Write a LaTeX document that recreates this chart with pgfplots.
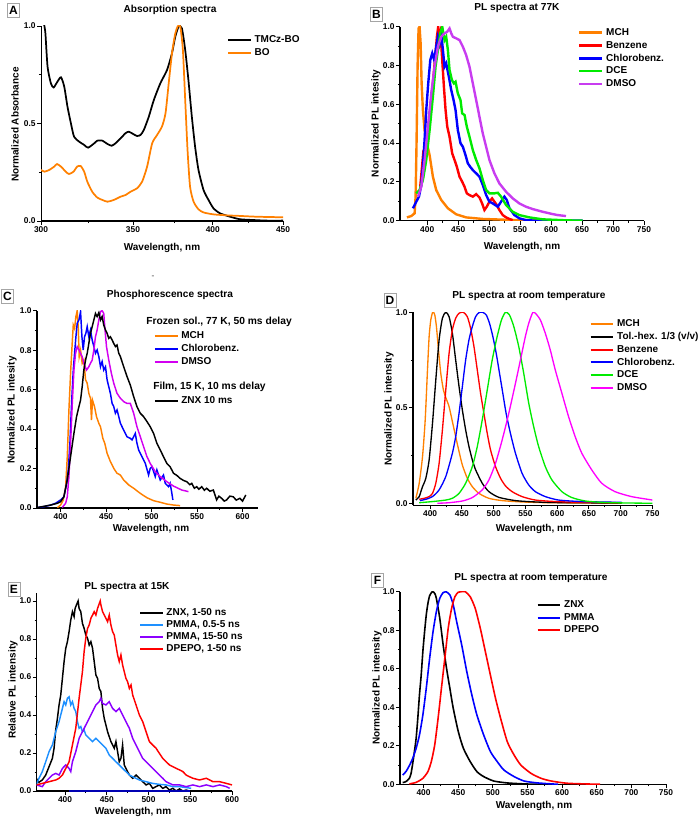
\documentclass[border=0pt]{standalone}
\usepackage{pgfplots}
\pgfplotsset{compat=1.18}
\usepackage{fontspec}
\setmainfont{Liberation Sans}
\definecolor{orgO}{RGB}{255,128,0}
\definecolor{vioB}{RGB}{200,60,240}
\definecolor{magC}{RGB}{210,0,240}
\definecolor{magD}{RGB}{255,0,255}
\definecolor{ltblue}{RGB}{30,144,255}
\definecolor{violetE}{RGB}{140,0,255}
\definecolor{grn}{RGB}{0,235,0}
\definecolor{boxgray}{RGB}{165,165,165}
\newcommand\tickf{\fontsize{6.3}{7}\selectfont\bfseries}
\newcommand\labf{\fontsize{7.5}{9}\selectfont\bfseries}
\newcommand\titf{\fontsize{7.6}{9}\selectfont\bfseries}
\newcommand\legf{\fontsize{7.5}{9}\selectfont\bfseries}
\pgfplotsset{orig/.style={
  scale only axis, anchor=south west,
  axis lines*=left, axis line style={-, line width=0.8pt, black},
  tick align=outside, major tick length=3pt, minor tick length=1.6pt,
  tick style={black, line width=0.7pt},
  ticklabel style={font=\tickf, inner sep=0.9pt},
  /pgf/number format/assume math mode=true,
  yticklabel style={/pgf/number format/.cd, fixed, fixed zerofill, precision=1},
  xticklabel style={/pgf/number format/.cd, fixed, precision=0},
  enlargelimits=false,
  legend cell align=left,
  legend image post style={line width=1.5pt},
  legend style={draw=none, fill=none, anchor=north west, inner sep=0pt, outer sep=0pt,
    row sep=0pt, font=\legf, /tikz/every odd column/.append style={column sep=2pt}},
}}
\begin{document}
\begin{tikzpicture}[x=0.75pt,y=0.75pt]
\useasboundingbox (0,0) rectangle (698,819);
\coordinate (pA) at (41,598);
\coordinate (pB) at (400,598.3);
\coordinate (pC) at (37,311);
\coordinate (pD) at (413,313.8);
\coordinate (pE) at (36.7,28);
\coordinate (pF) at (400,34.7);

% ---------------- A
\begin{axis}[orig, at={(pA)}, width=181.5pt, height=146.25pt,
  xmode=log, xmin=300, xmax=450, ymin=0, ymax=1,
  xtick={300,350,400,450}, xticklabels={300,350,400,450}, minor xtick={325,375,425},
  ytick={0,0.5,1}, minor ytick={0.25,0.75},
  legend style={at={(0.769,0.962)}, nodes={inner sep=0pt, text height=7pt, text depth=2.75pt}}]
\addplot[black, line width=1.3pt, smooth, tension=0.4] coordinates {(301.2,1.05)(301.7,1.0)(302.2,0.962)(303.3,0.791)(305.0,0.706)(306.4,0.685)(308.4,0.715)(310.2,0.737)(311.9,0.689)(313.6,0.586)(315.4,0.501)(317.1,0.432)(319.8,0.407)(322.5,0.390)(324.6,0.376)(327.9,0.398)(329.7,0.412)(332.5,0.412)(335.3,0.395)(337.7,0.386)(339.8,0.398)(342.8,0.424)(345.6,0.450)(347.6,0.458)(350.5,0.444)(352.4,0.436)(354.4,0.441)(356.4,0.467)(359.4,0.535)(362.4,0.62)(366.4,0.706)(370.5,0.774)(373.6,0.86)(375.7,0.945)(377.8,0.997)(379.9,0.988)(382.0,0.877)(384.1,0.723)(386.3,0.535)(388.4,0.381)(390.6,0.262)(393.9,0.159)(397.2,0.108)(400.5,0.065)(405.0,0.039)(411.8,0.022)(418.7,0.009)(428.1,0.005)(437.7,0.002)(450,0.002)};
\addlegendentry{TMCz-BO}
\addplot[orgO, line width=1.3pt, smooth, tension=0.4] coordinates {(300,0.262)(301.7,0.253)(304.2,0.262)(306.7,0.279)(308.1,0.292)(310.2,0.279)(312.7,0.253)(314.4,0.241)(316.8,0.253)(318.7,0.279)(320.6,0.282)(322.5,0.253)(324.2,0.202)(326.9,0.150)(329.7,0.12)(332.5,0.108)(335.3,0.099)(338.9,0.108)(342.8,0.125)(345.6,0.133)(348.5,0.150)(352.4,0.168)(355.4,0.202)(358.4,0.279)(361.4,0.398)(364.4,0.441)(367.4,0.484)(369.6,0.552)(371.6,0.706)(373.6,0.86)(375.7,0.962)(377.4,1.0)(378.9,0.997)(380.5,0.877)(382.0,0.62)(383.5,0.364)(385.1,0.176)(387.4,0.099)(390.6,0.06)(393.9,0.044)(400.5,0.034)(409.5,0.029)(418.7,0.026)(430.3,0.022)(450,0.019)};
\addlegendentry{BO}
\end{axis}

% ---------------- B
\begin{axis}[orig, at={(pB)}, width=183pt, height=145.5pt,
  xmin=356, xmax=750, ymin=0, ymax=1,
  xtick={400,450,...,750}, minor x tick num=1,
  ytick={0,0.2,...,1.0}, minor y tick num=1,
  legend image post style={line width=2pt},
  legend style={at={(0.730,1.002)}, nodes={inner sep=0pt, text height=6.9pt, text depth=2.7pt}}]
\addplot[orgO, line width=1.8pt] coordinates {(367.2,0.017)(374.2,0.024)(379.6,0.038)(381.2,0.124)(382.8,0.416)(384.4,0.794)(386.0,0.991)(387.6,1.0)(389.3,0.914)(390.9,0.708)(393.0,0.57)(395.7,0.467)(399.5,0.399)(403.8,0.338)(409.1,0.227)(414.5,0.158)(422.6,0.107)(433.3,0.064)(446.7,0.033)(462.8,0.017)(489.7,0.009)(543.4,0.003)(600,0.002)};
\addlegendentry{MCH}
\addplot[red, line width=1.8pt] coordinates {(388.7,0.175)(393.0,0.330)(395.2,0.30)(397.3,0.364)(401.1,0.450)(404.9,0.570)(409.1,0.708)(412.4,0.828)(415.6,0.948)(417.7,1.0)(419.9,0.931)(421.5,0.966)(424.2,0.828)(426.9,0.691)(429.6,0.570)(432.3,0.485)(436.0,0.433)(440.3,0.347)(444.1,0.313)(447.8,0.278)(452.1,0.227)(456.4,0.201)(460.2,0.175)(463.9,0.141)(468.2,0.132)(473.6,0.124)(479.0,0.137)(484.3,0.120)(488.6,0.089)(492.4,0.055)(496.1,0.072)(500.4,0.098)(504.7,0.115)(508.5,0.098)(512.2,0.081)(516.5,0.055)(521.9,0.029)(527.3,0.017)(532.7,0.009)(538.0,0.003)};
\addlegendentry{Benzene}
\addplot[blue, line width=1.8pt] coordinates {(376.9,0.064)(382.3,0.098)(386.6,0.124)(390.4,0.184)(393.0,0.278)(395.7,0.416)(398.4,0.570)(401.6,0.708)(404.9,0.828)(408.1,0.863)(411.3,0.828)(414.5,0.897)(417.2,0.948)(419.9,0.914)(422.6,0.966)(425.3,0.880)(427.9,0.794)(430.6,0.811)(434.9,0.742)(438.7,0.674)(442.5,0.622)(445.7,0.570)(449.4,0.467)(453.7,0.399)(457.5,0.381)(461.8,0.338)(465.5,0.296)(469.3,0.278)(473.6,0.261)(479.0,0.244)(484.3,0.227)(489.7,0.184)(495.1,0.132)(500.4,0.098)(505.8,0.089)(513.9,0.072)(519.2,0.098)(524.6,0.124)(528.4,0.107)(532.7,0.064)(540.7,0.029)(548.8,0.012)(559.5,0.003)(575.6,0)(650.8,0)};
\addlegendentry{Chlorobenz.}
\addplot[grn, line width=1.8pt] coordinates {(382.3,0.141)(387.7,0.158)(393.0,0.210)(398.4,0.313)(403.8,0.467)(409.1,0.639)(413.4,0.794)(417.2,0.880)(421.0,0.966)(424.2,1.0)(427.9,0.931)(430.6,0.948)(433.3,0.880)(436.0,0.777)(439.8,0.725)(443.0,0.708)(445.7,0.716)(449.4,0.656)(453.7,0.622)(456.4,0.553)(460.2,0.545)(463.9,0.485)(468.2,0.433)(473.6,0.364)(479.0,0.313)(484.3,0.270)(489.7,0.210)(495.1,0.158)(500.4,0.141)(508.5,0.141)(513.9,0.144)(519.2,0.124)(527.3,0.081)(538.0,0.046)(548.8,0.029)(564.9,0.017)(586.4,0.007)(624.0,0.002)(650.8,0)};
\addlegendentry{DCE}
\addplot[vioB, line width=1.8pt] coordinates {(385.0,0.124)(390.4,0.175)(395.7,0.313)(401.1,0.485)(406.5,0.656)(411.8,0.794)(417.2,0.897)(422.6,0.948)(427.9,0.966)(432.3,0.974)(436.0,0.991)(438.7,0.966)(441.4,0.948)(446.7,0.940)(452.1,0.931)(457.5,0.897)(462.8,0.854)(468.2,0.794)(473.6,0.708)(479.0,0.622)(484.3,0.536)(489.7,0.450)(495.1,0.381)(500.4,0.313)(508.5,0.244)(516.5,0.192)(527.3,0.149)(538.0,0.115)(548.8,0.089)(559.5,0.072)(570.2,0.060)(586.4,0.046)(602.5,0.034)(610.5,0.029)(624.0,0.024)};
\addlegendentry{DMSO}
\end{axis}

% ---------------- C
\begin{axis}[orig, at={(pC)}, width=165.75pt, height=148pt,
  xmin=374, xmax=617, ymin=0, ymax=1,
  xtick={400,450,...,600}, minor x tick num=1,
  ytick={0,0.2,...,1.0}, minor y tick num=1,
  legend style={at={(0.529,0.906)}, nodes={inner sep=0pt, text height=7pt, text depth=2.75pt}}]
\addplot[orgO, line width=1.1pt] coordinates {(396.4,0.002)(400,0.015)(402.9,0.041)(405.5,0.108)(407.3,0.26)(409.1,0.497)(410.9,0.682)(412.8,0.843)(413.9,0.927)(415.3,0.91)(416.8,0.97)(418.2,1.0)(419.3,0.919)(420.4,0.767)(421.9,0.8)(423.7,0.733)(425.5,0.75)(427.4,0.649)(429.2,0.632)(431.0,0.581)(432.8,0.556)(433.9,0.446)(435.0,0.547)(437.2,0.514)(439.4,0.463)(442.0,0.429)(443.8,0.412)(446.4,0.353)(448.5,0.328)(451.1,0.277)(454.7,0.235)(458.4,0.201)(462.0,0.176)(465.7,0.167)(469.3,0.142)(474.8,0.117)(480.3,0.1)(487.6,0.074)(494.9,0.052)(502.2,0.037)(509.5,0.029)(516.8,0.02)(524.1,0.015)(531.4,0.012)};
\addlegendentry{MCH}
\addplot[blue, line width=1.1pt] coordinates {(375.2,0.003)(381.8,0.007)(389.1,0.015)(394.5,0.024)(400,0.041)(403.6,0.057)(406.6,0.125)(408.4,0.193)(410.2,0.328)(412.0,0.530)(413.9,0.699)(415.3,0.784)(416.8,0.868)(418.2,0.936)(420.1,0.953)(421.9,0.995)(423.4,0.868)(424.8,0.801)(426.3,0.868)(427.7,0.885)(429.2,0.919)(431.0,0.868)(432.8,0.902)(434.7,0.851)(436.5,0.818)(438.3,0.784)(440.1,0.801)(442.0,0.767)(443.8,0.716)(445.6,0.742)(447.4,0.699)(449.3,0.716)(451.1,0.649)(452.9,0.615)(454.7,0.581)(456.6,0.530)(458.4,0.514)(460.2,0.480)(462.0,0.497)(463.9,0.463)(465.7,0.429)(469.3,0.395)(473.0,0.361)(476.6,0.353)(478.5,0.345)(482.1,0.378)(483.9,0.328)(485.8,0.294)(489.4,0.260)(493.1,0.226)(496.7,0.167)(498.5,0.201)(500.4,0.209)(504.0,0.159)(505.8,0.193)(509.5,0.142)(513.1,0.167)(515.0,0.125)(518.6,0.108)(520.4,0.125)(522.3,0.074)(523.4,0.041)};
\addlegendentry{Chlorobenz.}
\addplot[magC, line width=1.1pt] coordinates {(401.8,0.003)(405.5,0.024)(407.3,0.057)(409.1,0.159)(410.9,0.328)(412.8,0.530)(414.6,0.699)(416.4,0.784)(418.2,0.818)(420.1,0.801)(421.9,0.784)(423.7,0.767)(425.5,0.733)(428.5,0.699)(431.0,0.716)(432.8,0.733)(434.7,0.750)(436.5,0.801)(438.3,0.868)(440.1,0.902)(442.0,0.953)(443.8,0.995)(445.6,1.0)(447.4,0.986)(448.5,0.919)(450.4,0.818)(452.9,0.750)(455.8,0.682)(458.4,0.632)(462.0,0.581)(465.7,0.556)(469.3,0.539)(473.0,0.530)(476.6,0.530)(480.3,0.480)(483.9,0.412)(487.6,0.361)(491.2,0.311)(494.9,0.260)(498.5,0.226)(504.0,0.184)(509.5,0.159)(516.8,0.133)(524.1,0.111)(533.2,0.091)(540.5,0.083)};
\addlegendentry{DMSO}
\addlegendimage{empty legend}\addlegendentry{}
\addlegendimage{empty legend}\addlegendentry{}
\addplot[black, line width=1.1pt] coordinates {(375.2,0.003)(389.1,0.015)(396.4,0.024)(400,0.032)(403.6,0.057)(407.3,0.142)(410.9,0.260)(414.6,0.378)(417.5,0.463)(420.1,0.514)(421.9,0.547)(423.7,0.615)(425.5,0.699)(427.4,0.750)(429.2,0.784)(431.0,0.834)(432.8,0.885)(434.7,0.919)(436.5,0.953)(438.3,0.986)(440.1,0.970)(442.0,0.990)(443.8,0.953)(445.6,0.970)(447.4,0.927)(449.3,0.902)(451.1,0.885)(452.9,0.860)(454.7,0.868)(456.6,0.851)(458.4,0.834)(460.2,0.818)(462.0,0.826)(463.9,0.784)(465.7,0.767)(469.3,0.716)(473.0,0.666)(476.6,0.623)(480.3,0.564)(483.9,0.514)(487.6,0.480)(491.2,0.463)(494.9,0.438)(498.5,0.412)(502.2,0.378)(505.8,0.328)(509.5,0.294)(513.1,0.260)(516.8,0.226)(520.4,0.209)(524.1,0.176)(527.8,0.165)(531.4,0.150)(535.0,0.140)(538.7,0.133)(542.0,0.118)(544.2,0.125)(547.0,0.100)(549.6,0.108)(552.0,0.095)(555.1,0.108)(558.0,0.090)(560.6,0.100)(564.0,0.085)(567.9,0.091)(571.5,0.041)(574.0,0.060)(577.0,0.049)(580.0,0.035)(582.5,0.041)(586.0,0.060)(589.8,0.057)(593.0,0.040)(597.1,0.049)(600.0,0.035)(603.6,0.066)};
\addlegendentry{ZNX 10 ms}
\end{axis}

% ---------------- D
\begin{axis}[orig, at={(pD)}, width=179.6pt, height=144.7pt,
  xmin=373, xmax=750, ymin=-0.01, ymax=1,
  xtick={400,450,...,750}, minor x tick num=1,
  ytick={0,0.5,1}, minor ytick={0.25,0.75},
  legend style={at={(0.738,0.971)}, nodes={inner sep=0pt, text height=6.85pt, text depth=2.7pt}}]
\addplot[orgO, line width=1.0pt, smooth, tension=0.4] coordinates {(377.5,0.026)(382.8,0.105)(388.0,0.244)(392.2,0.436)(395.8,0.698)(398.4,0.873)(401.0,0.960)(403.7,0.998)(405.2,1.0)(407.3,0.986)(409.9,0.925)(413.1,0.803)(416.7,0.681)(420.9,0.593)(425.0,0.55)(429.8,0.506)(435.0,0.428)(440.2,0.349)(445.5,0.271)(450.7,0.2)(458.5,0.131)(466.4,0.087)(476.8,0.052)(492.5,0.026)(513.4,0.014)(544.7,0.007)(586.5,0.003)(638.8,0.002)(701.5,0)};
\addlegendentry{MCH}
\addplot[black, line width=1.0pt, smooth, tension=0.4] coordinates {(377.5,0.017)(382.8,0.035)(385.4,0.061)(388.0,0.087)(393.2,0.131)(398.4,0.227)(403.7,0.419)(408.9,0.646)(414.1,0.855)(419.3,0.969)(424.6,1.0)(429.8,0.977)(435.0,0.890)(440.2,0.750)(445.5,0.611)(450.7,0.489)(455.9,0.384)(461.1,0.297)(466.4,0.227)(471.6,0.175)(482.0,0.105)(492.5,0.061)(508.2,0.031)(534.3,0.014)(565.6,0.007)(612.6,0.003)(701.5,0.002)};
\addlegendentry{Tol.-hex. 1/3 (v/v)}
\addplot[red, line width=1.0pt, smooth, tension=0.4] coordinates {(382.8,0.021)(390.6,0.026)(398.4,0.035)(403.7,0.052)(408.9,0.105)(414.1,0.209)(419.3,0.384)(424.6,0.593)(429.8,0.785)(435.0,0.908)(440.2,0.969)(445.5,0.995)(452.2,1.0)(458.5,0.977)(463.7,0.916)(469.0,0.820)(474.2,0.698)(479.4,0.576)(484.6,0.471)(489.9,0.366)(495.1,0.279)(502.9,0.192)(510.8,0.131)(518.6,0.091)(529.0,0.061)(544.7,0.035)(565.6,0.017)(597.0,0.009)(638.8,0.005)(701.5,0.003)};
\addlegendentry{Benzene}
\addplot[blue, line width=1.0pt, smooth, tension=0.4] coordinates {(383.8,0.014)(393.2,0.021)(403.7,0.035)(414.1,0.070)(424.6,0.140)(435.0,0.262)(440.2,0.349)(445.5,0.471)(450.7,0.611)(455.9,0.750)(461.1,0.855)(466.4,0.925)(471.6,0.977)(476.8,0.998)(482.5,1.0)(488.3,0.986)(493.5,0.942)(498.7,0.873)(504.0,0.785)(509.2,0.681)(514.4,0.576)(519.6,0.471)(526.4,0.366)(534.3,0.262)(544.7,0.157)(555.2,0.096)(565.6,0.061)(581.3,0.035)(602.2,0.017)(638.8,0.009)(701.5,0.005)};
\addlegendentry{Chlorobenz.}
\addplot[grn, line width=1.0pt, smooth, tension=0.4] coordinates {(382.8,0.003)(403.7,0.009)(424.6,0.017)(435.0,0.026)(445.5,0.052)(455.9,0.105)(466.4,0.192)(474.2,0.297)(482.0,0.436)(489.9,0.593)(497.7,0.750)(505.5,0.873)(512.3,0.960)(518.6,1.0)(524.9,0.986)(531.7,0.925)(539.5,0.820)(547.3,0.681)(555.2,0.524)(563.0,0.401)(570.8,0.297)(581.3,0.192)(591.7,0.122)(607.4,0.061)(623.1,0.030)(644.0,0.012)(670.1,0.005)(701.5,0.002)(750,0)};
\addlegendentry{DCE}
\addplot[magD, line width=1.0pt, smooth, tension=0.4] coordinates {(411.5,0)(429.8,0.003)(450.7,0.012)(466.4,0.030)(482.0,0.070)(492.5,0.122)(502.9,0.209)(513.4,0.332)(523.8,0.471)(534.3,0.628)(542.1,0.750)(549.9,0.873)(555.2,0.942)(561.4,0.998)(565.6,0.995)(573.5,0.960)(581.3,0.890)(589.1,0.803)(597.0,0.698)(607.4,0.576)(617.9,0.454)(628.3,0.349)(638.8,0.262)(654.4,0.175)(670.1,0.105)(691.0,0.061)(717.1,0.035)(750,0.017)};
\addlegendentry{DMSO}
\end{axis}

% ---------------- E
\begin{axis}[orig, at={(pE)}, width=146.5pt, height=148.2pt,
  xmin=366, xmax=600, ymin=0, ymax=1.04,
  xtick={400,450,...,600}, minor x tick num=1,
  ytick={0,0.2,...,1.0}, minor y tick num=1,
  legend style={at={(0.524,0.933)}, nodes={inner sep=0pt, text height=6.5pt, text depth=2.57pt}}]
\addplot[black, line width=1.1pt] coordinates {(365.5,0.067)(368.7,0.046)(372.7,0.058)(376.8,0.084)(380.8,0.128)(384.8,0.172)(386.8,0.225)(388.8,0.321)(390.8,0.382)(392.8,0.453)(394.8,0.505)(396.8,0.593)(398.8,0.681)(400.8,0.751)(402.8,0.786)(404.8,0.839)(406.8,0.9)(408.8,0.944)(410.8,0.918)(412.0,0.961)(413.6,0.979)(415.6,1.0)(416.8,0.961)(418.8,0.944)(420.8,0.882)(422.8,0.856)(424.8,0.821)(426.9,0.804)(428.9,0.768)(430.9,0.786)(432.9,0.751)(434.9,0.681)(436.9,0.611)(438.9,0.593)(440.9,0.540)(442.9,0.523)(444.9,0.435)(446.9,0.382)(448.9,0.347)(450.9,0.312)(452.9,0.286)(454.9,0.260)(456.9,0.242)(458.9,0.225)(460.9,0.260)(462.9,0.207)(464.9,0.154)(466.9,0.172)(468.9,0.242)(470.9,0.137)(472.9,0.119)(477.0,0.084)(481.0,0.067)(485.0,0.084)(489.0,0.067)(493.0,0.049)(497.0,0.032)(501.0,0.040)(505.0,0.014)(509.0,0.023)(513.0,0.032)(517.0,0.014)(521.0,0.023)(525.1,0.005)(529.1,0.014)(533.1,0)(537.1,0.011)(541.1,0)(545.1,0.005)(549.1,0)};
\addlegendentry{ZNX, 1-50 ns}
\addplot[ltblue, line width=1.1pt] coordinates {(365.5,0.032)(368.7,0.067)(372.7,0.102)(376.8,0.154)(380.8,0.207)(384.8,0.242)(388.8,0.312)(392.8,0.365)(394.8,0.400)(396.8,0.435)(398.8,0.470)(400.8,0.453)(402.8,0.488)(404.8,0.496)(406.0,0.470)(406.8,0.453)(408.8,0.470)(410.8,0.435)(412.8,0.418)(414.8,0.365)(416.8,0.330)(418.8,0.339)(420.8,0.312)(422.8,0.321)(424.8,0.295)(428.9,0.277)(432.9,0.260)(436.9,0.277)(440.9,0.260)(444.9,0.242)(448.9,0.225)(452.9,0.189)(456.9,0.172)(460.9,0.154)(464.9,0.137)(468.9,0.119)(472.9,0.102)(477.0,0.084)(481.0,0.075)(489.0,0.058)(497.0,0.049)(505.0,0.040)(513.0,0.035)(521.0,0.032)(529.1,0.023)(537.1,0.023)(545.1,0.018)(551.1,0.014)};
\addlegendentry{PMMA, 0.5-5 ns}
\addplot[violetE, line width=1.1pt] coordinates {(365.5,0.032)(372.7,0.023)(376.8,0.049)(380.8,0.067)(384.8,0.084)(388.8,0.093)(392.8,0.084)(396.8,0.119)(400.8,0.137)(404.8,0.119)(406.8,0.102)(408.8,0.154)(412.8,0.207)(416.8,0.277)(420.8,0.312)(424.8,0.347)(428.9,0.382)(432.9,0.418)(436.9,0.453)(440.9,0.470)(442.9,0.488)(444.9,0.461)(448.9,0.453)(452.9,0.470)(456.9,0.435)(460.9,0.418)(464.9,0.435)(468.9,0.400)(472.9,0.365)(477.0,0.330)(481.0,0.277)(485.0,0.242)(489.0,0.207)(493.0,0.172)(497.0,0.154)(501.0,0.137)(505.0,0.119)(509.0,0.102)(513.0,0.084)(517.0,0.067)(521.0,0.049)(529.1,0.032)(537.1,0.032)(545.1,0.023)(553.1,0.032)(561.1,0.023)(569.1,0.032)(577.2,0.023)(585.2,0.032)(593.2,0.023)(597.2,0.014)};
\addlegendentry{PMMA, 15-50 ns}
\addplot[red, line width=1.1pt] coordinates {(365.5,0.032)(372.7,0.040)(380.8,0.049)(388.8,0.058)(392.8,0.067)(396.8,0.084)(400.8,0.119)(404.8,0.154)(408.8,0.242)(412.8,0.330)(416.8,0.488)(420.8,0.628)(422.8,0.733)(424.8,0.804)(426.9,0.856)(428.9,0.874)(430.9,0.909)(432.9,0.926)(434.9,0.944)(436.9,0.926)(438.9,0.961)(442.1,1.0)(442.9,0.979)(444.9,0.944)(446.9,0.926)(448.9,0.909)(450.9,0.891)(452.9,0.926)(454.9,0.874)(456.9,0.839)(458.9,0.821)(460.9,0.768)(462.9,0.716)(464.9,0.681)(466.9,0.716)(468.9,0.663)(470.9,0.628)(472.9,0.593)(474.9,0.575)(477.0,0.540)(479.0,0.558)(481.0,0.505)(485.0,0.453)(489.0,0.400)(493.0,0.365)(497.0,0.312)(501.0,0.260)(505.0,0.242)(509.0,0.225)(513.0,0.198)(517.0,0.172)(521.0,0.154)(525.1,0.137)(529.1,0.128)(533.1,0.119)(537.1,0.111)(541.1,0.102)(545.1,0.084)(549.1,0.075)(553.1,0.067)(561.1,0.058)(569.1,0.067)(577.2,0.049)(585.2,0.049)(593.2,0.040)(600,0.032)};
\addlegendentry{DPEPO, 1-50 ns}
\addplot[blue!70!black, line width=1.0pt, forget plot] coordinates {(405,0)(550,0)};
\end{axis}

% ---------------- F
\begin{axis}[orig, at={(pF)}, width=199.5pt, height=144.5pt,
  xmin=366, xmax=750, ymin=0, ymax=1,
  xtick={400,450,...,750}, minor x tick num=1,
  ytick={0,0.2,...,1.0}, minor y tick num=1,
  legend style={at={(0.514,0.963)}, nodes={inner sep=0pt, text height=6.75pt, text depth=2.62pt}}]
\addplot[black, line width=1.2pt, smooth, tension=0.4] coordinates {(369.8,0.009)(374.6,0.014)(379.5,0.031)(382.0,0.057)(384.4,0.109)(386.8,0.170)(389.3,0.239)(391.7,0.343)(394.1,0.464)(396.6,0.567)(399.0,0.689)(401.5,0.792)(403.9,0.879)(406.3,0.939)(408.8,0.979)(412.7,1.0)(416.1,0.991)(418.5,0.965)(423.4,0.862)(428.3,0.723)(433.2,0.602)(438.0,0.498)(442.9,0.394)(450.2,0.273)(457.5,0.187)(467.3,0.118)(477.0,0.066)(486.8,0.040)(501.4,0.017)(520.9,0.007)(545.3,0.002)(564.8,0)};
\addlegendentry{ZNX}
\addplot[blue, line width=1.2pt, smooth, tension=0.4] coordinates {(369.8,0.048)(374.6,0.066)(379.5,0.097)(384.4,0.135)(389.3,0.187)(394.1,0.256)(399.0,0.360)(403.9,0.498)(408.8,0.654)(413.7,0.792)(418.5,0.896)(423.4,0.965)(428.3,0.995)(432.2,1.0)(438.0,0.983)(442.9,0.931)(447.8,0.844)(455.1,0.723)(462.4,0.585)(469.7,0.464)(477.0,0.360)(486.8,0.256)(496.5,0.170)(506.3,0.118)(516.0,0.074)(530.7,0.040)(545.3,0.017)(564.8,0.007)(594.1,0)};
\addlegendentry{PMMA}
\addplot[red, line width=1.2pt, smooth, tension=0.4] coordinates {(379.5,0.002)(389.3,0.010)(399.0,0.031)(406.3,0.066)(411.2,0.118)(416.1,0.204)(421.0,0.343)(425.8,0.498)(430.7,0.654)(435.6,0.810)(440.5,0.913)(445.3,0.974)(450.2,0.997)(455.0,1.0)(460.0,1.0)(467.3,0.974)(474.6,0.913)(481.9,0.810)(489.2,0.689)(496.5,0.567)(503.9,0.446)(511.2,0.343)(520.9,0.221)(530.7,0.152)(540.4,0.100)(555.0,0.057)(569.7,0.031)(584.3,0.017)(608.7,0.005)(655.0,0)};
\addlegendentry{DPEPO}
\end{axis}

% ---------------- texts
\tikzset{pbox/.style={draw=boxgray, line width=0.5pt, fill=white, inner sep=0pt, minimum width=9pt, minimum height=10.5pt, font=\fontsize{9}{10}\selectfont\bfseries}}
% A
\node[font=\titf] at (170,809) {Absorption spectra};
\node[pbox] at (13.5,808.5) {A};
\node[font=\labf, rotate=90, inner sep=0pt] at (15,694.5) {Normalized Absorbance};
\node[font=\labf, inner sep=0pt] at (162,571) {Wavelength, nm};
% B
\node[font=\titf] at (517,810.7) {PL spectra at 77K};
\node[pbox] at (376.5,804.5) {B};
\node[font=\labf, rotate=90, inner sep=0pt] at (376,695.5) {Normalized PL intesity};
\node[font=\labf, inner sep=0pt] at (522,572) {Wavelength, nm};
% C
\node[font=\tickf, text=gray, inner sep=0pt] at (153,542) {-};
\node[pbox] at (7.5,522.5) {C};
\node[font=\titf] at (170,524) {Phosphorescence spectra};
\node[font=\labf, rotate=90, inner sep=0pt] at (12,409) {Normalized PL intesity};
\node[font=\labf, inner sep=0pt] at (151,290.5) {Wavelength, nm};
\node[font=\fontsize{7.7}{9}\selectfont\bfseries, anchor=west, inner sep=0pt] at (146,497) {Frozen sol., 77 K, 50 ms delay};
\node[font=\fontsize{7.7}{9}\selectfont\bfseries, anchor=west, inner sep=0pt] at (153,432) {Film, 15 K, 10 ms delay};
% D
\node[pbox] at (390,519) {D};
\node[font=\titf] at (529,523) {PL spectra at room temperature};
\node[font=\labf, rotate=90, inner sep=0pt] at (389,410) {Normalized PL intensity};
\node[font=\labf, inner sep=0pt] at (534,290) {Wavelength, nm};
% E
\node[pbox] at (14,230) {E};
\node[font=\titf] at (127,232) {PL spectra at 15K};
\node[font=\labf, rotate=90, inner sep=0pt] at (13,129) {Relative PL intensity};
\node[font=\labf, inner sep=0pt] at (133,7.5) {Wavelength, nm};
% F
\node[pbox] at (377.5,239) {F};
\node[font=\titf] at (531,241) {PL spectra at room temperature};
\node[font=\labf, rotate=90, inner sep=0pt] at (377,131) {Normalized PL intensity};
\node[font=\labf, inner sep=0pt] at (534,13) {Wavelength, nm};
\end{tikzpicture}
\end{document}
